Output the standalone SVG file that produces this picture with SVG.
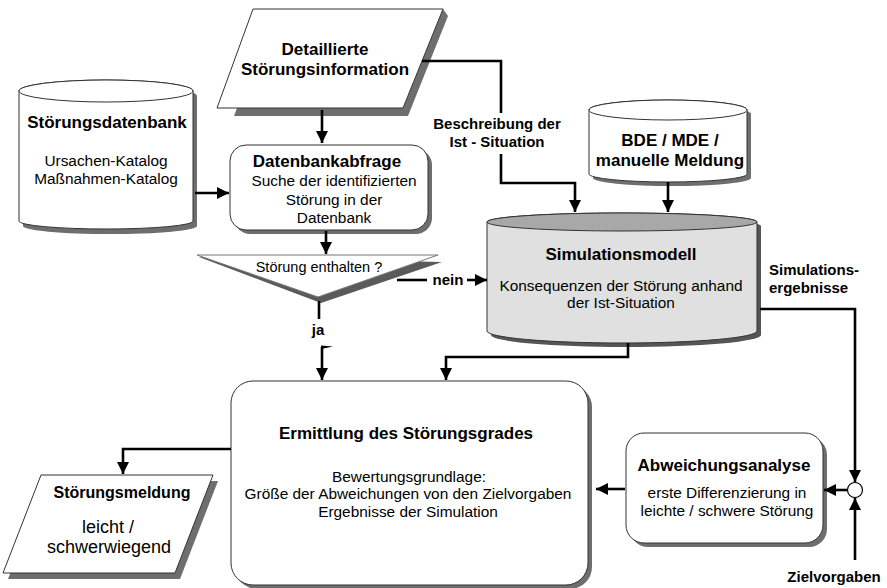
<svg xmlns="http://www.w3.org/2000/svg" width="887" height="588" viewBox="0 0 887 588">
  <defs>
    <marker id="arrow" markerUnits="userSpaceOnUse" markerWidth="12" markerHeight="12" refX="12" refY="6" orient="auto">
      <path d="M0,0 L12,6 L0,12 Z" fill="#000"/>
    </marker>
  </defs>
  <style>
    text { font-family: "Liberation Sans", Arial, sans-serif; fill: #000; }
    .title { font-weight: bold; font-size: 17px; text-anchor: middle; }
    .body { font-size: 15.4px; text-anchor: middle; }
    .lbl { font-weight: bold; font-size: 15px; text-anchor: middle; }
    .lbl-left { font-weight: bold; font-size: 15px; text-anchor: start; }
    .shape { fill: #fff; stroke: #333; stroke-width: 1; }
    .shadow { fill: #6e6e6e; stroke: none; }
    .conn { fill: none; stroke: #000; stroke-width: 2.6; }
  </style>
  <rect width="887" height="588" fill="#fff"/>

  <!-- input: detailed fault information -->
  <g id="detail-info">
    <polygon class="shadow" points="448,16 408,116 234,116 237,108 403,108 443,9"/>
    <polygon class="shape" points="253,9 443,9 403,108 217,108"/>
    <text class="title" x="325" y="55">Detaillierte</text>
    <text class="title" x="325" y="75">Störungsinformation</text>
  </g>

  <!-- fault database -->
  <g id="fault-db">
    <path class="shadow" transform="translate(4,5)" d="M19,91 V221 A87,8 0 0 0 193,221 V91 A87,11 0 0 0 19,91 Z"/>
    <path class="shape" d="M19,91 V221 A87,8 0 0 0 193,221 V91 A87,11 0 0 0 19,91 Z"/>
    <ellipse class="shape" cx="106" cy="91" rx="87" ry="11"/>
    <text class="title" x="107" y="128">Störungsdatenbank</text>
    <text class="body" x="106" y="166">Ursachen-Katalog</text>
    <text class="body" x="106" y="184">Maßnahmen-Katalog</text>
  </g>

  <!-- database query -->
  <g id="db-query">
    <rect class="shadow" x="234" y="149" width="198" height="85" rx="16"/>
    <rect class="shape" x="230" y="145" width="198" height="85" rx="16"/>
    <text class="title" x="327" y="167">Datenbankabfrage</text>
    <text class="body" x="334" y="186">Suche der identifizierten</text>
    <text class="body" x="334" y="205">Störung in der</text>
    <text class="body" x="334" y="223">Datenbank</text>
  </g>

  <!-- decision -->
  <g id="decision">
    <polygon points="199,257 442,262 321,303" fill="#5a5a5a"/>
    <polygon points="197,255 438,255 318,297" fill="#fff" stroke="#777" stroke-width="1"/>
    <text x="319" y="272" font-size="14.5" text-anchor="middle">Störung enthalten ?</text>
  </g>

  <!-- BDE / MDE source -->
  <g id="bde-mde">
    <path class="shadow" transform="translate(4,4)" d="M589,110 V174 A79,8 0 0 0 747,174 V110 A79,10 0 0 0 589,110 Z"/>
    <path class="shape" d="M589,110 V174 A79,8 0 0 0 747,174 V110 A79,10 0 0 0 589,110 Z"/>
    <ellipse class="shape" cx="668" cy="110" rx="79" ry="10"/>
    <text class="title" x="670" y="146">BDE / MDE /</text>
    <text class="title" x="670" y="166">manuelle Meldung</text>
  </g>

  <!-- simulation model -->
  <g id="sim-model">
    <path transform="translate(4,4)" d="M487,222 V331 A135,12 0 0 0 757,331 V222 A135,9 0 0 0 487,222 Z" fill="#555"/>
    <path d="M487,222 V331 A135,12 0 0 0 757,331 V222 A135,9 0 0 0 487,222 Z" fill="#e0e0e0" stroke="#333" stroke-width="1"/>
    <ellipse cx="622" cy="222" rx="135" ry="9" fill="#a8a8a8" stroke="#333" stroke-width="1"/>
    <text class="title" x="621" y="260">Simulationsmodell</text>
    <text class="body" x="621" y="291">Konsequenzen der Störung anhand</text>
    <text class="body" x="621" y="308">der Ist-Situation</text>
  </g>

  <!-- determination of fault severity -->
  <g id="severity">
    <rect class="shadow" x="235" y="385" width="357" height="204" rx="22"/>
    <rect class="shape" x="231" y="381" width="357" height="204" rx="22"/>
    <text class="title" x="406" y="439">Ermittlung des Störungsgrades</text>
    <text class="body" x="409" y="482">Bewertungsgrundlage:</text>
    <text class="body" x="408" y="499">Größe der Abweichungen von den Zielvorgaben</text>
    <text class="body" x="408" y="517">Ergebnisse der Simulation</text>
  </g>

  <!-- deviation analysis -->
  <g id="deviation">
    <rect class="shadow" x="630" y="437" width="197" height="110" rx="18"/>
    <rect class="shape" x="626" y="433" width="197" height="110" rx="18"/>
    <text class="title" x="724" y="471">Abweichungsanalyse</text>
    <text class="body" x="727" y="498">erste Differenzierung in</text>
    <text class="body" x="727" y="516">leichte / schwere Störung</text>
  </g>

  <!-- output: fault report -->
  <g id="fault-report">
    <polygon class="shadow" transform="translate(5,6)" points="41,475 213,475 175,573 3,573"/>
    <polygon class="shape" points="41,475 213,475 175,573 3,573"/>
    <text x="122" y="498" font-size="16" font-weight="bold" text-anchor="middle">Störungsmeldung</text>
    <text x="108" y="533" font-size="18" text-anchor="middle">leicht /</text>
    <text x="109" y="553" font-size="18" text-anchor="middle">schwerwiegend</text>
  </g>

  <!-- comparison junction -->
  <g id="junction">
    <circle cx="855" cy="490" r="7.5" fill="#fff" stroke="#000" stroke-width="1.2"/>
  </g>

  <!-- connectors -->
  <g id="connectors">
    <path class="conn" d="M322,110 V143" marker-end="url(#arrow)"/>
    <path class="conn" d="M195,193 H229" marker-end="url(#arrow)"/>
    <path class="conn" d="M326,231 V254" marker-end="url(#arrow)"/>
    <path class="conn" d="M397,280 H427"/>
    <path class="conn" d="M467,280 H487" marker-end="url(#arrow)"/>
    <path class="conn" d="M319,301 V319"/>
    <path class="conn" d="M322,347 V380" marker-end="url(#arrow)"/>
    <polygon points="321,345.5 333,346.5 321,349" fill="#000"/>
    <path class="conn" d="M628,343 V357 H446 V380" marker-end="url(#arrow)"/>
    <path class="conn" d="M422,61 H501 V113"/>
    <path class="conn" d="M501,154 V183 H575 V212" marker-end="url(#arrow)"/>
    <path class="conn" d="M668,182 V212" marker-end="url(#arrow)"/>
    <path class="conn" stroke-width="2" d="M760,309 H855 V482" marker-end="url(#arrow)"/>
    <path class="conn" d="M855,560 V498" marker-end="url(#arrow)"/>
    <path class="conn" d="M847,490 H824" marker-end="url(#arrow)"/>
    <path class="conn" d="M625,489 H596" marker-end="url(#arrow)"/>
    <path class="conn" d="M231,449 H123 V474" marker-end="url(#arrow)"/>

    <text class="lbl" x="448" y="285">nein</text>
    <text class="lbl" x="318" y="335">ja</text>
    <text class="lbl" x="497" y="129">Beschreibung der</text>
    <text class="lbl" x="497" y="147">Ist - Situation</text>
    <text class="lbl-left" x="769" y="275">Simulations-</text>
    <text class="lbl-left" x="769" y="293">ergebnisse</text>
    <text class="lbl" x="834" y="582">Zielvorgaben</text>
  </g>
</svg>
